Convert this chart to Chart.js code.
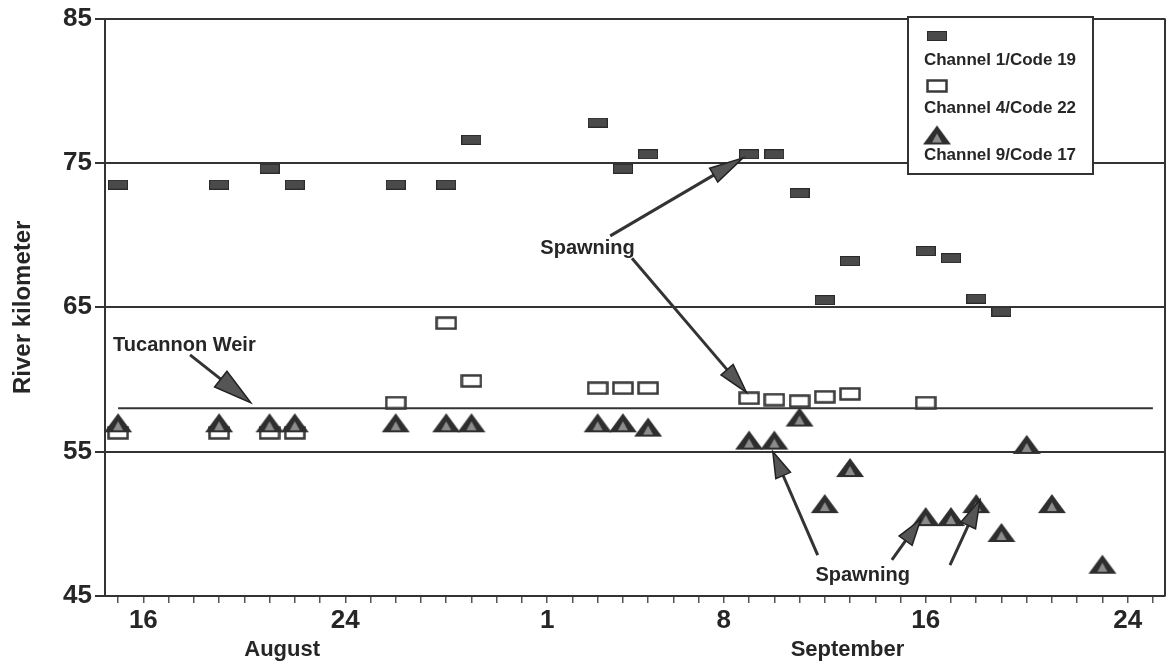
<!DOCTYPE html>
<html>
<head>
<meta charset="utf-8">
<script src="https://cdn.jsdelivr.net/npm/chart.js@4/dist/chart.umd.min.js"></script>
<style>
body { margin: 0; background: #fff; }
</style>
</head>
<body>
<canvas id="myChart" width="1167" height="666"></canvas>
<script>
// days counted from Aug 1 (Aug 16 = 16, Sep 1 = 32)
var ch1Days = [15, 19, 21, 22, 26, 28, 29, 34, 35, 36, 40, 41, 42, 43, 44, 47, 48, 49, 50];
var ch1Km = [73.5, 73.5, 74.6, 73.5, 73.5, 73.5, 76.6, 77.8, 74.6, 75.6, 75.6, 75.6, 72.9, 65.5, 68.2, 68.9, 68.4, 65.6, 64.7];

var ch4Days = [15, 19, 21, 22, 26, 28, 29, 34, 35, 36, 40, 41, 42, 43, 44, 47];
var ch4Km = [56.3, 56.3, 56.3, 56.3, 58.4, 63.9, 59.9, 59.4, 59.4, 59.4, 58.7, 58.6, 58.5, 58.8, 59.0, 58.4];

var ch9Days = [15, 19, 21, 22, 26, 28, 29, 34, 35, 36, 40, 41, 42, 43, 44, 47, 48, 49, 50, 51, 52, 54];
var ch9Km = [57.0, 57.0, 57.0, 57.0, 57.0, 57.0, 57.0, 57.0, 57.0, 56.7, 55.8, 55.8, 57.4, 51.4, 53.9, 50.5, 50.5, 51.4, 49.4, 55.5, 51.4, 47.2];

var weirDays = [15, 56];
var weirKm = 58;

var tickDays = [16, 24, 32, 39, 47, 55];
var tickLabels = ['16', '24', '1', '8', '16', '24'];
var seriesNames = ['Channel 1/Code 19', 'Channel 4/Code 22', 'Channel 9/Code 17'];

var FONT = "'Liberation Sans', Arial, sans-serif";
var INK = '#262626';

function toPoints(days, km) {
  var pts = [];
  for (var i = 0; i < days.length; i++) {
    pts.push({ x: days[i], y: km[i] });
  }
  return pts;
}

// marker images
function makeCanvas(w, h) {
  var c = document.createElement('canvas');
  c.width = w; c.height = h;
  return c;
}
var filledRect = makeCanvas(20, 10);
(function () {
  var g = filledRect.getContext('2d');
  g.fillStyle = '#4a4a4a';
  g.fillRect(0, 0, 20, 10);
  g.strokeStyle = '#2a2a2a';
  g.lineWidth = 1;
  g.strokeRect(0.5, 0.5, 19, 9);
})();
var hollowRect = makeCanvas(22, 14);
(function () {
  var g = hollowRect.getContext('2d');
  g.fillStyle = '#fff';
  g.fillRect(1, 1, 20, 12);
  g.strokeStyle = '#3a3a3a';
  g.lineWidth = 2.5;
  g.strokeRect(1.5, 1.5, 19, 11);
})();
var triMark = makeCanvas(30, 21);
(function () {
  var g = triMark.getContext('2d');
  g.beginPath();
  g.moveTo(1, 20); g.lineTo(15, 1); g.lineTo(29, 20); g.closePath();
  g.fillStyle = '#2e2e2e';
  g.fill();
  g.beginPath();
  g.moveTo(10, 18); g.lineTo(15, 9); g.lineTo(20, 18); g.closePath();
  g.fillStyle = '#8c8c8c';
  g.fill();
})();

function drawArrow(ctx, x0, y0, x1, y1, len, half) {
  var a = Math.atan2(y1 - y0, x1 - x0);
  var bx = x1 - Math.cos(a) * len, by = y1 - Math.sin(a) * len;
  ctx.beginPath();
  ctx.moveTo(x0, y0);
  ctx.lineTo(bx, by);
  ctx.strokeStyle = '#333';
  ctx.lineWidth = 3;
  ctx.stroke();
  ctx.beginPath();
  ctx.moveTo(x1, y1);
  ctx.lineTo(bx + Math.sin(a) * half, by - Math.cos(a) * half);
  ctx.lineTo(bx - Math.sin(a) * half, by + Math.cos(a) * half);
  ctx.closePath();
  ctx.fillStyle = '#555';
  ctx.fill();
  ctx.strokeStyle = '#222';
  ctx.lineWidth = 1.5;
  ctx.stroke();
}

var notes = {
  id: 'notes',
  afterDraw: function (chart) {
    var ctx = chart.ctx, xs = chart.scales.x, ys = chart.scales.y, area = chart.chartArea;
    function px(d) { return xs.getPixelForValue(d); }
    function py(v) { return ys.getPixelForValue(v); }
    function label(text, x, y) {
      ctx.fillStyle = INK;
      ctx.fillText(text, x, y);
    }
    ctx.save();

    // right frame
    ctx.beginPath();
    ctx.moveTo(area.right, area.top);
    ctx.lineTo(area.right, area.bottom);
    ctx.strokeStyle = '#333';
    ctx.lineWidth = 2;
    ctx.stroke();

    // month labels
    ctx.textAlign = 'center';
    ctx.textBaseline = 'middle';
    ctx.font = 'bold 22px ' + FONT;
    label('August', px(21.5), 650);
    label('September', px(43.9), 650);

    // annotations
    ctx.font = 'bold 20px ' + FONT;
    ctx.textAlign = 'left';
    label('Tucannon Weir', px(14.8), py(62.35));
    drawArrow(ctx, px(17.85), py(61.7), px(20.25), py(58.4), 38, 10);

    ctx.textAlign = 'center';
    label('Spawning', px(33.6), py(69.1));
    drawArrow(ctx, px(34.5), py(69.95), px(39.76), py(75.35), 34, 8);
    drawArrow(ctx, px(35.36), py(68.4), px(39.9), py(59.1), 30, 8);

    label('Spawning', px(44.5), py(46.45));
    drawArrow(ctx, px(42.72), py(47.83), px(40.94), py(55.0), 26, 8);
    drawArrow(ctx, px(45.66), py(47.5), px(46.8), py(50.3), 26, 8);
    drawArrow(ctx, px(47.96), py(47.14), px(49.15), py(51.65), 28, 8);

    // legend box
    ctx.fillStyle = '#fff';
    ctx.fillRect(908, 17, 185, 157);
    ctx.strokeStyle = '#333';
    ctx.lineWidth = 2;
    ctx.strokeRect(908, 17, 185, 157);
    var marks = [filledRect, hollowRect, triMark];
    var markY = [36, 86, 135];
    var textY = [60, 108, 155];
    ctx.font = 'bold 17px ' + FONT;
    for (var i = 0; i < 3; i++) {
      var m = marks[i];
      ctx.drawImage(m, 937 - m.width / 2, markY[i] - m.height / 2);
      label(seriesNames[i], 1000, textY[i]);
    }
    ctx.restore();
  }
};

var ctx = document.getElementById('myChart').getContext('2d');
var myChart = new Chart(ctx, {
  type: 'scatter',
  data: {
    datasets: [
      {
        label: seriesNames[2],
        data: toPoints(ch9Days, ch9Km),
        pointStyle: triMark,
        pointRadius: 10,
        order: 0
      },
      {
        label: seriesNames[1],
        data: toPoints(ch4Days, ch4Km),
        pointStyle: hollowRect,
        pointRadius: 10,
        order: 1
      },
      {
        label: seriesNames[0],
        data: toPoints(ch1Days, ch1Km),
        pointStyle: filledRect,
        pointRadius: 10,
        order: 2
      },
      {
        label: 'Tucannon Weir',
        data: weirDays.map(function (d) { return { x: d, y: weirKm }; }),
        showLine: true,
        pointRadius: 0,
        borderColor: '#333',
        borderWidth: 2,
        order: 3
      }
    ]
  },
  options: {
    responsive: false,
    animation: false,
    layout: { autoPadding: false, padding: { top: 18, right: 2, left: 0, bottom: 0 } },
    plugins: {
      legend: { display: false },
      tooltip: { enabled: false }
    },
    scales: {
      x: {
        type: 'linear',
        min: 14.48,
        max: 56.48,
        afterBuildTicks: function (scale) {
          var t = [];
          for (var d = 15; d <= 56; d++) t.push({ value: d });
          scale.ticks = t;
        },
        afterFit: function (scale) {
          scale.height = 70;
          scale.paddingLeft = 0;
          scale.paddingRight = 0;
        },
        ticks: {
          autoSkip: false,
          maxRotation: 0,
          padding: 2,
          color: INK,
          font: { family: FONT, size: 26, weight: 'bold' },
          callback: function (v) {
            var k = tickDays.indexOf(v);
            return k >= 0 ? tickLabels[k] : '';
          }
        },
        grid: { drawOnChartArea: false, tickLength: 7, color: '#555', lineWidth: 1.5 },
        border: { color: '#333', width: 2 }
      },
      y: {
        min: 45,
        max: 85,
        afterFit: function (scale) { scale.width = 105; },
        ticks: {
          stepSize: 10,
          padding: 3,
          color: INK,
          font: { family: FONT, size: 26, weight: 'bold' }
        },
        grid: { color: '#333', lineWidth: 2, tickLength: 10 },
        border: { color: '#333', width: 2 },
        title: {
          display: true,
          text: 'River kilometer',
          color: INK,
          padding: { top: 9, bottom: 0 },
          font: { family: FONT, size: 24, weight: 'bold' }
        }
      }
    }
  },
  plugins: [notes]
});
</script>
</body>
</html>
